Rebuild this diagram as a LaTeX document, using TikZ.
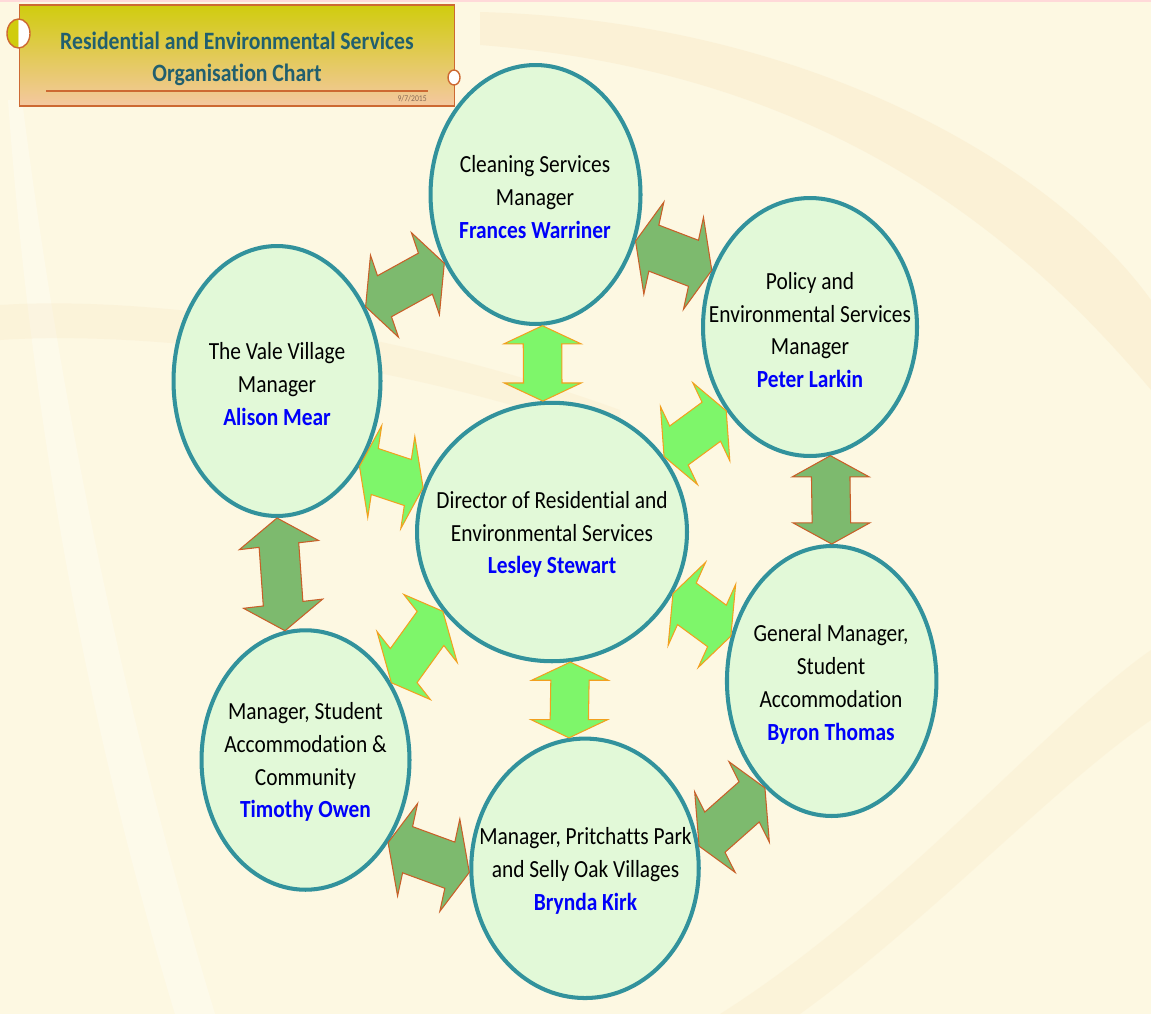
\documentclass[tikz,border=0pt]{standalone}
\usepackage{fontspec}
\setmainfont{Carlito}[FakeStretch=0.87, Ligatures=NoCommon]
\usetikzlibrary{calc,shapes.geometric}

\definecolor{bgcream}{RGB}{253,248,226}
\definecolor{peachband}{RGB}{246,216,170}
\definecolor{ringteal}{RGB}{50,146,156}
\definecolor{ringfill}{RGB}{226,249,216}
\definecolor{outerfill}{RGB}{125,186,110}
\definecolor{outerline}{RGB}{200,95,40}
\definecolor{innerfill}{RGB}{126,246,106}
\definecolor{innerline}{RGB}{242,160,30}
\definecolor{nameblue}{RGB}{0,0,250}
\definecolor{titleteal}{RGB}{33,95,110}
\definecolor{bannertop}{RGB}{208,204,14}
\definecolor{bannermid}{RGB}{228,200,90}
\definecolor{bannerbottom}{RGB}{244,200,160}
\definecolor{bannerline}{RGB}{205,105,50}
\definecolor{datetext}{RGB}{135,105,85}

\newcommand{\staffname}[1]{{\bfseries\color{nameblue}#1}}

% double block arrow: style, tip, tip, half width of the heads
\newcommand{\blockarrow}[4]{%
  \draw[#1] (#2)
    -- ($(#2)!0.24!(#3)+(#4)$) -- ($(#2)!0.24!(#3)+0.5*(#4)$)
    -- ($(#3)!0.24!(#2)+0.5*(#4)$) -- ($(#3)!0.24!(#2)+(#4)$)
    -- (#3)
    -- ($(#3)!0.24!(#2)-(#4)$) -- ($(#3)!0.24!(#2)-0.5*(#4)$)
    -- ($(#2)!0.24!(#3)-0.5*(#4)$) -- ($(#2)!0.24!(#3)-(#4)$)
    -- cycle;}

\begin{document}
\begin{tikzpicture}[x=0.02cm,y=-0.02cm,
  person/.style={ellipse, draw=ringteal, line width=2.3pt, fill=ringfill, inner sep=0pt},
  role/.style={align=center, font=\fontsize{14}{18.7}\selectfont},
  outerarrow/.style={fill=outerfill, draw=outerline, line width=0.6pt, line join=miter},
  innerarrow/.style={fill=innerfill, draw=innerline, line width=0.6pt, line join=miter}]

\useasboundingbox (0,0) rectangle (1151,1014);
\fill[bgcream] (0,0) rectangle (1151,1014);

% background swooshes
\fill[peachband, opacity=0.2] (480,12) .. controls (800,20) and (1050,160) .. (1151,300)
  -- (1151,390) .. controls (1000,210) and (800,70) .. (480,45) -- cycle;
\fill[white, opacity=0.3] (22,100) .. controls (60,400) and (120,700) .. (215,1014)
  -- (175,1014) .. controls (80,700) and (30,400) .. (8,100) -- cycle;
\fill[peachband, opacity=0.15] (0,305) .. controls (150,295) and (400,330) .. (620,410)
  -- (620,440) .. controls (400,360) and (150,330) .. (0,340) -- cycle;
\fill[peachband, opacity=0.15] (720,1014) .. controls (900,900) and (1050,720) .. (1151,650)
  -- (1151,720) .. controls (1050,790) and (930,920) .. (800,1014) -- cycle;
\draw[red!15, line width=0.8pt] (0,1) -- (1151,1);

% banner
\node[draw=bannerline, line width=0.6pt, top color=bannertop, middle color=bannermid,
  bottom color=bannerbottom, minimum width=8.72cm, minimum height=2.02cm] (banner) at (237,55.5) {};
\node[align=center, text=titleteal, font=\fontsize{14.2}{18.1}\selectfont\bfseries] (title) at (237,59)
  {Residential and Environmental Services\\Organisation Chart};
\draw[bannerline, line width=1pt] (46,91) -- (427.7,91);
\node[anchor=east, inner sep=0pt, text=datetext, font=\fontsize{5}{6}\selectfont] (date) at (427,99) {9/7/2015};
\fill[bannertop] (18.5,19) arc[start angle=90, end angle=270, x radius=0.23cm, y radius=0.29cm] -- cycle;
\fill[white] (18.5,19) arc[start angle=90, end angle=-90, x radius=0.23cm, y radius=0.29cm] -- cycle;
\draw[bannerline, line width=0.8pt] (18.5,33.5) ellipse [x radius=0.23cm, y radius=0.29cm];
\draw[bannerline, line width=0.8pt, fill=white] (454,77.5) ellipse [x radius=0.12cm, y radius=0.15cm];

% people
\node[person, minimum width=4.2cm, minimum height=5.18cm] (cleaning) at (535.5,194.5) {};
\node[person, minimum width=4.28cm, minimum height=5.16cm] (policy) at (810,327) {};
\node[person, minimum width=4.14cm, minimum height=5.4cm] (vale) at (277,381) {};
\node[person, minimum width=5.4cm, minimum height=5.17cm] (director) at (552,532) {};
\node[person, minimum width=4.19cm, minimum height=5.4cm] (student) at (831.7,681) {};
\node[person, minimum width=4.16cm, minimum height=5.19cm] (community) at (305.5,760) {};
\node[person, minimum width=4.55cm, minimum height=5.19cm] (villages) at (585,868.3) {};

% arrows round the ring
\blockarrow{outerarrow}{vale.40}{cleaning.217}{14,41}
\blockarrow{outerarrow}{cleaning.335}{policy.150}{-10,46}
\blockarrow{outerarrow}{policy.279}{student.90}{38.5,0}
\blockarrow{outerarrow}{villages.11}{student.238}{20.2,40.2}
\blockarrow{outerarrow}{community.315}{villages.182}{-10,46.2}
\blockarrow{outerarrow}{vale.270}{community.99}{39.6,-4.6}

% arrows to the director
\blockarrow{innerarrow}{cleaning.273}{director.94}{38.5,0}
\blockarrow{innerarrow}{director.34}{policy.225}{18.5,39}
\blockarrow{innerarrow}{vale.314}{director.161}{-7,46}
\blockarrow{innerarrow}{community.42}{director.216}{26.7,34}
\blockarrow{innerarrow}{villages.97}{director.278}{38.3,0}
\blockarrow{innerarrow}{director.333}{student.156}{-18.7,41.5}

% texts
\node[role] (cleaning text) at (535,197) {Cleaning Services\\Manager\\\staffname{Frances Warriner}};
\node[role] (policy text) at (810,330) {Policy and\\Environmental Services\\Manager\\\staffname{Peter Larkin}};
\node[role] (vale text) at (277,384) {The Vale Village\\Manager\\\staffname{Alison Mear}};
\node[role] (director text) at (552,534.5) {Director of Residential and\\Environmental Services\\\staffname{Lesley Stewart}};
\node[role] (student text) at (831,684.5) {General Manager,\\Student\\Accommodation\\\staffname{Byron Thomas}};
\node[role] (community text) at (305.5,762) {Manager, Student\\Accommodation \&\\Community\\\staffname{Timothy Owen}};
\node[role] (villages text) at (585.5,871) {Manager, Pritchatts Park\\and Selly Oak Villages\\\staffname{Brynda Kirk}};

\end{tikzpicture}
\end{document}
